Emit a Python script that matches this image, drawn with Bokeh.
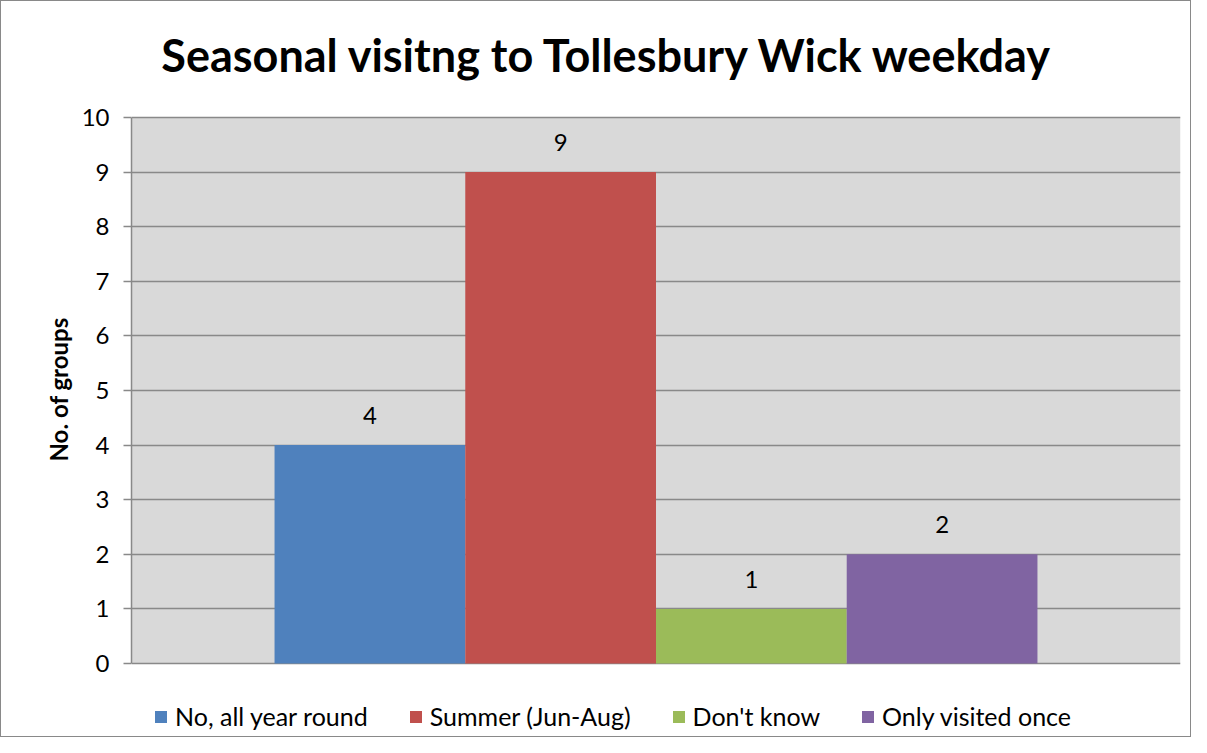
from bokeh.plotting import figure
from bokeh.models import (Range1d, FactorRange, FixedTicker, Title, Legend, Label,
                          LegendItem, ColumnDataSource, BoxAnnotation)
from bokeh.embed import file_html
from bokeh.resources import INLINE
from bokeh.core.properties import value

title_text = "Seasonal visitng to Tollesbury Wick weekday"
series = ["No, all year round", "Summer (Jun-Aug)", "Don't know", "Only visited once"]
counts = [4, 9, 1, 2]
colors = ["#4F81BD", "#C0504D", "#9BBB59", "#8064A2"]
y_ticks = [0, 1, 2, 3, 4, 5, 6, 7, 8, 9, 10]
y_label = "No. of groups"

FONT = "Lato"
W, H = 1191, 737
Y_MIN, Y_MAX = 0, 10
# extra room below zero (legend) and above ten (title), as fractions of the 0..10 span
Y_START = Y_MIN - (Y_MAX - Y_MIN) * 75 / 546
Y_END = Y_MAX + (Y_MAX - Y_MIN) * 116 / 546

p = figure(width=W, height=H,
           x_range=FactorRange(*series, range_padding=0.375),
           y_range=Range1d(Y_START, Y_END),
           output_backend="svg", toolbar_location=None, title=None,
           min_border_left=130, min_border_right=12,
           min_border_top=0, min_border_bottom=0)
p.styles = {"border": "1px solid #898989"}
p.background_fill_color = "#FFFFFF"
p.border_fill_color = "#FFFFFF"
p.outline_line_color = None

p.add_layout(BoxAnnotation(bottom=Y_MIN, top=Y_MAX, fill_color="#D9D9D9",
                           fill_alpha=1.0, line_color=None, level="image"))

src = ColumnDataSource(dict(series=series, counts=counts, colors=colors,
                            labels=[str(c) for c in counts]))
r = p.vbar(x="series", top="counts", bottom=Y_MIN, width=1.0, fill_color="colors",
           line_color=None, source=src)
p.text(x="series", y="counts", text="labels", source=src,
       text_align="center", text_baseline="bottom", y_offset=-21,
       text_font=value(FONT), text_font_size="24px", text_color="#000000")

p.xaxis.visible = False
p.xgrid.visible = False

p.yaxis.ticker = FixedTicker(ticks=y_ticks)
p.yaxis.bounds = (Y_MIN, Y_MAX)
p.yaxis.minor_tick_line_color = None
p.yaxis.major_tick_in = 0
p.yaxis.major_tick_out = 8
p.yaxis.major_tick_line_color = "#898989"
p.yaxis.major_tick_line_width = 1.5
p.yaxis.axis_line_color = "#898989"
p.yaxis.axis_line_width = 1.5
p.yaxis.major_label_text_font = FONT
p.yaxis.major_label_text_font_size = "24px"
p.yaxis.major_label_text_color = "#000000"
p.yaxis.major_label_standoff = 14

p.ygrid.grid_line_color = "#898989"
p.ygrid.grid_line_width = 1.5

# y-axis title, centred on the 0..10 span rather than the whole frame
p.add_layout(Title(text=y_label, align="left", offset=277, standoff=12,
                   text_font=FONT, text_font_size="24px", text_font_style="bold",
                   text_color="#000000"), "left")

# chart title (inside the frame's top margin area)
p.add_layout(Label(x=476.5, y=684, x_units="screen", y_units="screen",
                   text=title_text, text_align="center", text_baseline="alphabetic",
                   text_font=FONT, text_font_size="45px", text_font_style="bold",
                   text_color="#000000"))

items = [LegendItem(label=s, renderers=[r], index=i) for i, s in enumerate(series)]
legend = Legend(items=items, orientation="horizontal", location=(22, 7),
                padding=0, margin=0, spacing=40, label_standoff=7,
                glyph_width=15, glyph_height=15,
                label_text_font=FONT, label_text_font_size="25px",
                label_text_color="#000000", border_line_color=None,
                background_fill_alpha=0)
p.add_layout(legend)

open("out.html", "w").write(file_html(p, INLINE))
